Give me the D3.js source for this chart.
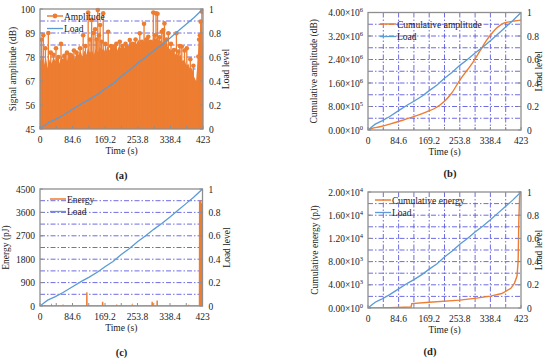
<!DOCTYPE html>
<html>
<head>
<meta charset="utf-8">
<script src="https://cdn.jsdelivr.net/npm/d3@7"></script>
<style>
  body { margin: 0; background: #fff; }
  svg text { font-family: "Liberation Serif", "DejaVu Serif", serif; fill: #222; }
</style>
</head>
<body>
<svg id="chart" width="550" height="361" font-family="Liberation Serif, DejaVu Serif, serif"></svg>
<script>
// ---- shared axes ----
const timeTicks = [0, 84.6, 169.2, 253.8, 338.4, 423];
const loadTicks = [0, 0.2, 0.4, 0.6, 0.8, 1];

// ---- load curve (same test in all panels) ----
const loadTime  = [0, 10, 20, 30, 40, 60, 84.6, 110, 127, 150, 169.2, 190, 211.5, 232, 253.8, 275, 296, 317, 338.4, 360, 380, 400, 423];
const loadLevel = [0, 0.025, 0.05, 0.065, 0.08, 0.115, 0.165, 0.215, 0.245, 0.29, 0.335, 0.38, 0.44, 0.49, 0.55, 0.6, 0.655, 0.705, 0.76, 0.82, 0.875, 0.93, 1.0];

// ---- (a) amplitude: dense hit envelope + tall hits ----
const ampTicks = [45, 56, 67, 78, 89, 100];
const ampEnvTime  = [0, 5, 10, 15, 20, 25, 30, 35, 40, 45, 50, 55, 60, 65, 70, 75, 80, 85, 90, 95, 100, 105, 110, 115, 120, 125, 130, 135, 140, 145, 150, 155, 160, 165, 170, 175, 180, 185, 190, 195, 200, 205, 210, 215, 220, 225, 230, 235, 240, 245, 250, 255, 260, 265, 270, 275, 280, 285, 290, 295, 300, 305, 310, 315, 320, 325, 330, 335, 340, 345, 350, 355, 360, 365, 370, 375, 380, 385, 390, 395, 400, 405, 408, 411, 414, 417, 420, 423];
const ampEnvValue = [76, 79, 74, 78, 73, 77, 75, 78, 76, 79, 75, 78, 77, 80, 76, 79, 78, 80, 77, 80, 79, 81, 78, 81, 79, 82, 80, 81, 79, 82, 80, 83, 81, 82, 80, 83, 81, 83, 82, 84, 81, 83, 82, 84, 82, 84, 83, 85, 83, 85, 84, 86, 84, 86, 85, 87, 85, 86, 85, 87, 86, 87, 85, 86, 84, 85, 83, 82, 81, 82, 79, 80, 78, 79, 76, 77, 74, 75, 72, 73, 69, 67, 74, 82, 88, 92, 94, 82];
const ampPeakTime  = [4, 8.6, 14, 21.6, 28, 35, 41.5, 48, 54.5, 63, 70, 78, 88, 95, 104, 112, 118, 125, 130, 134, 138, 143, 147, 150, 153, 156, 160, 164, 170, 177, 184, 190, 198, 207, 214, 222, 233, 240, 248, 259, 264, 270, 276, 281, 287, 294, 298, 301, 305, 310, 316, 320, 323, 328, 333, 340, 348, 354, 359, 363, 368, 375, 381, 390, 398, 411, 413, 415, 417, 420];
const ampPeakValue = [86, 88, 82, 89, 80, 79, 82, 78, 84, 78.5, 80, 79, 81, 80, 82, 88, 83, 98.4, 86, 95, 89, 90.7, 86, 99.5, 88, 92.7, 85, 98, 84, 89.6, 83, 82.8, 84, 85, 83, 84, 85.8, 84, 86, 88.9, 85, 93.2, 86, 87.3, 85, 98.4, 88, 98, 97.8, 87, 89.6, 90.4, 93.4, 86, 88.9, 84, 81.2, 88.9, 80.5, 83, 82.8, 81, 82, 77, 74, 78.2, 86, 88, 94.2, 98.8];

// ---- (b) cumulative amplitude ----
const cumAmpTicks = [0, 8e5, 1.6e6, 2.4e6, 3.2e6, 4e6];
const cumAmpTime  = [0, 10, 33, 60, 97.6, 130, 162, 185, 199, 215, 231, 254, 275, 291, 310, 328, 345, 355, 365, 374, 390, 405, 423];
const cumAmpValue = [0, 0.05e6, 0.11e6, 0.2e6, 0.34e6, 0.47e6, 0.62e6, 0.74e6, 0.85e6, 1.02e6, 1.25e6, 1.7e6, 2.05e6, 2.32e6, 2.7e6, 3.06e6, 3.33e6, 3.46e6, 3.56e6, 3.63e6, 3.68e6, 3.71e6, 3.74e6];

// ---- (c) energy spikes ----
const energyTicks = [0, 900, 1800, 2700, 3600, 4500];
const energySpikeTime  = [13, 30, 60, 122, 128, 163, 200, 240, 292, 305, 320, 387, 415.5, 417, 418.5, 420];
const energySpikeValue = [35, 20, 15, 530, 30, 165, 15, 20, 165, 210, 25, 40, 4080, 3900, 4050, 3950];

// ---- (d) cumulative energy ----
const cumEnergyTicks = [0, 4e3, 8e3, 1.2e4, 1.6e4, 2e4];
const cumEnergyTime  = [0, 15, 60, 100, 119, 121, 169.2, 253.8, 300, 338.4, 370, 395, 405, 412, 415, 417, 419, 421, 423];
const cumEnergyValue = [0, 20, 60, 120, 160, 750, 1000, 1350, 1700, 2050, 2500, 3400, 4300, 5500, 8000, 15000, 19000, 20000, 20000];

const ORANGE = "#ED7D31", BLUE = "#5B9BD5", GRID = "#5d5be0", FRAME = "#8e8e8e";
const SERIF = "Liberation Serif, DejaVu Serif, serif";

const svg = d3.select("#chart");

// "4.00×10^6" style label as tspans
function sciLabel(sel, v) {
  let e = v === 0 ? 0 : Math.floor(Math.log10(v));
  let m = v === 0 ? 0 : v / Math.pow(10, e);
  sel.append("tspan").text(`${m.toFixed(2)}\u00d710`);
  sel.append("tspan").attr("font-size", "6.5px").attr("dy", -4).text(e);
}

function drawPanel(p) {
  let g = svg.append("g").attr("font-family", SERIF);
  let x = d3.scaleLinear().domain([0, 423]).range([p.x0, p.x1]);
  let y = d3.scaleLinear().domain(p.yDomain).range([p.y1, p.y0]);
  let yL = d3.scaleLinear().domain([0, 1]).range([p.y1, p.y0]);

  let clipId = `clip_${p.label}`;
  g.append("clipPath").attr("id", clipId)
    .append("rect").attr("x", p.x0).attr("y", p.y0 - 2)
    .attr("width", p.x1 - p.x0).attr("height", p.y1 - p.y0 + 2);

  // grid lines: every 0.1 of load level, plus every 42.3 s if asked
  let grid = g.append("g")
    .attr("stroke", GRID).attr("stroke-width", 0.9)
    .attr("stroke-dasharray", "5,2,1.5,2");
  grid.selectAll(".h").data(d3.range(1, 10).map(i => i / 10)).join("line")
    .attr("x1", p.x0).attr("x2", p.x1)
    .attr("y1", d => yL(d)).attr("y2", d => yL(d));
  if (p.vGrid) {
    grid.selectAll(".v").data(d3.range(1, 10).map(i => i * 42.3)).join("line")
      .attr("y1", p.y0).attr("y2", p.y1)
      .attr("x1", d => x(d)).attr("x2", d => x(d));
  }

  let plot = g.append("g").attr("clip-path", `url(#${clipId})`);
  p.draw(plot, x, y);

  // load line
  plot.append("path")
    .datum(d3.zip(loadTime, loadLevel))
    .attr("fill", "none").attr("stroke", BLUE).attr("stroke-width", 1.3)
    .attr("d", d3.line().x(d => x(d[0])).y(d => yL(d[1])));

  // frame
  g.append("rect")
    .attr("x", p.x0).attr("y", p.y0)
    .attr("width", p.x1 - p.x0).attr("height", p.y1 - p.y0)
    .attr("fill", "none").attr("stroke", FRAME).attr("stroke-width", 1.3);

  // tick marks (inward)
  let tk = g.append("g").attr("stroke", FRAME).attr("stroke-width", 1);
  tk.selectAll(".xt").data(d3.range(0, 11).map(i => i * 42.3)).join("line")
    .attr("x1", d => x(d)).attr("x2", d => x(d))
    .attr("y1", p.y1).attr("y2", p.y1 - 3);
  tk.selectAll(".yt").data(p.yTicks).join("line")
    .attr("x1", p.x0).attr("x2", p.x0 + 3)
    .attr("y1", d => y(d)).attr("y2", d => y(d));
  tk.selectAll(".rt").data(loadTicks).join("line")
    .attr("x1", p.x1).attr("x2", p.x1 - 3)
    .attr("y1", d => yL(d)).attr("y2", d => yL(d));

  // tick labels
  g.append("g").attr("font-size", "9.5px").attr("text-anchor", "middle")
    .selectAll("text").data(timeTicks).join("text")
    .attr("x", d => x(d)).attr("y", p.y1 + 13.5)
    .text(d => d);
  g.append("g").attr("font-size", "9.5px").attr("text-anchor", "end")
    .selectAll("text").data(p.yTicks).join("text")
    .attr("x", p.x0 - 5).attr("y", d => y(d) + 3.5)
    .each(function(d) {
      if (p.sci) sciLabel(d3.select(this), d);
      else d3.select(this).text(d);
    });
  g.append("g").attr("font-size", "9.5px").attr("text-anchor", "start")
    .selectAll("text").data(loadTicks).join("text")
    .attr("x", p.x1 + 6).attr("y", d => yL(d) + 3.5)
    .text(d => d);

  // axis titles
  g.append("text").attr("font-size", "9.5px").attr("text-anchor", "middle")
    .attr("x", (p.x0 + p.x1) / 2).attr("y", p.y1 + 25)
    .text("Time (s)");
  g.append("text").attr("font-size", "9.5px").attr("text-anchor", "middle")
    .attr("transform", `translate(${p.yTitleX},${(p.y0 + p.y1) / 2}) rotate(-90)`)
    .text(p.yTitle);
  g.append("text").attr("font-size", "9.5px").attr("text-anchor", "middle")
    .attr("transform", `translate(${p.x1 + p.rTitleDx},${(p.y0 + p.y1) / 2}) rotate(-90)`)
    .text("Load level");

  // legend
  let lg = g.append("g").attr("font-size", "9.5px");
  let lx = p.x0 + p.legDx, ly = p.y0 + p.legDy;
  lg.append("line").attr("x1", lx).attr("x2", lx + 16).attr("y1", ly).attr("y2", ly)
    .attr("stroke", ORANGE).attr("stroke-width", 1.5);
  if (p.legMarker) {
    lg.append("circle").attr("cx", lx + 8).attr("cy", ly).attr("r", 2.4).attr("fill", ORANGE);
  }
  lg.append("text").attr("x", lx + 17).attr("y", ly + 3.5).text(p.legName);
  lg.append("line").attr("x1", lx).attr("x2", lx + 16).attr("y1", ly + 12.5).attr("y2", ly + 12.5)
    .attr("stroke", BLUE).attr("stroke-width", 1.3);
  lg.append("text").attr("x", lx + 17).attr("y", ly + 16).text("Load");

  // panel label
  g.append("text").attr("font-size", "10.5px").attr("font-weight", "bold")
    .attr("text-anchor", "middle")
    .attr("x", p.labelX).attr("y", p.labelY)
    .text(`(${p.label})`);
}

// (a)
drawPanel({
  label: "a", labelX: 121.5, labelY: 179,
  x0: 40, x1: 203, y0: 9, y1: 129,
  yDomain: [45, 100], yTicks: ampTicks,
  yTitle: "Signal amplitude (dB)", yTitleX: 16, rTitleDx: 26,
  legDx: 7, legDy: 7, legName: "Amplitude", legMarker: true,
  draw: (plot, x, y) => {
    plot.append("path")
      .datum(d3.zip(ampEnvTime, ampEnvValue))
      .attr("fill", ORANGE)
      .attr("d", d3.area().x(d => x(d[0])).y0(y(45)).y1(d => y(d[1])));
    let peaks = d3.zip(ampPeakTime, ampPeakValue);
    plot.append("g").attr("stroke", ORANGE).attr("stroke-width", 1.3)
      .selectAll("line").data(peaks).join("line")
      .attr("x1", d => x(d[0])).attr("x2", d => x(d[0]))
      .attr("y1", y(45)).attr("y2", d => y(d[1]));
    plot.append("g").attr("fill", ORANGE)
      .selectAll("circle").data(peaks).join("circle")
      .attr("cx", d => x(d[0])).attr("cy", d => y(d[1])).attr("r", 2.3);
  }
});

// (b)
drawPanel({
  label: "b", labelX: 450, labelY: 177,
  x0: 368, x1: 521, y0: 12.5, y1: 130,
  yDomain: [0, 4e6], yTicks: cumAmpTicks, sci: true, vGrid: true,
  yTitle: "Cumulative amplitude (dB)", yTitleX: 317, rTitleDx: 21,
  legDx: 12, legDy: 11.5, legName: "Cumulative amplitude",
  draw: (plot, x, y) => {
    plot.append("path")
      .datum(d3.zip(cumAmpTime, cumAmpValue))
      .attr("fill", "none").attr("stroke", ORANGE).attr("stroke-width", 1.4)
      .attr("d", d3.line().curve(d3.curveMonotoneX).x(d => x(d[0])).y(d => y(d[1])));
  }
});

// (c)
drawPanel({
  label: "c", labelX: 121.5, labelY: 356,
  x0: 40, x1: 202.5, y0: 189, y1: 306,
  yDomain: [0, 4500], yTicks: energyTicks,
  yTitle: "Energy (pJ)", yTitleX: 9, rTitleDx: 27,
  legDx: 10, legDy: 10, legName: "Energy",
  draw: (plot, x, y) => {
    // baseline with a vertical spike at each hit
    let pts = [[0, 0]];
    d3.zip(energySpikeTime, energySpikeValue).forEach(d => {
      pts.push([d[0] - 0.4, 0], [d[0], d[1]], [d[0] + 0.4, 0]);
    });
    pts.push([423, 0]);
    plot.append("path")
      .datum(pts)
      .attr("fill", "none").attr("stroke", ORANGE).attr("stroke-width", 1.4)
      .attr("d", d3.line().x(d => x(d[0])).y(d => y(d[1])));
  }
});

// (d)
drawPanel({
  label: "d", labelX: 430, labelY: 355,
  x0: 368, x1: 521, y0: 192, y1: 308,
  yDomain: [0, 2e4], yTicks: cumEnergyTicks, sci: true, vGrid: true,
  yTitle: "Cumulative energy (pJ)", yTitleX: 318, rTitleDx: 21,
  legDx: 7, legDy: 8, legName: "Cumulative energy",
  draw: (plot, x, y) => {
    plot.append("path")
      .datum(d3.zip(cumEnergyTime, cumEnergyValue))
      .attr("fill", "none").attr("stroke", ORANGE).attr("stroke-width", 1.4)
      .attr("d", d3.line().x(d => x(d[0])).y(d => y(d[1])));
  }
});
</script>
</body>
</html>
